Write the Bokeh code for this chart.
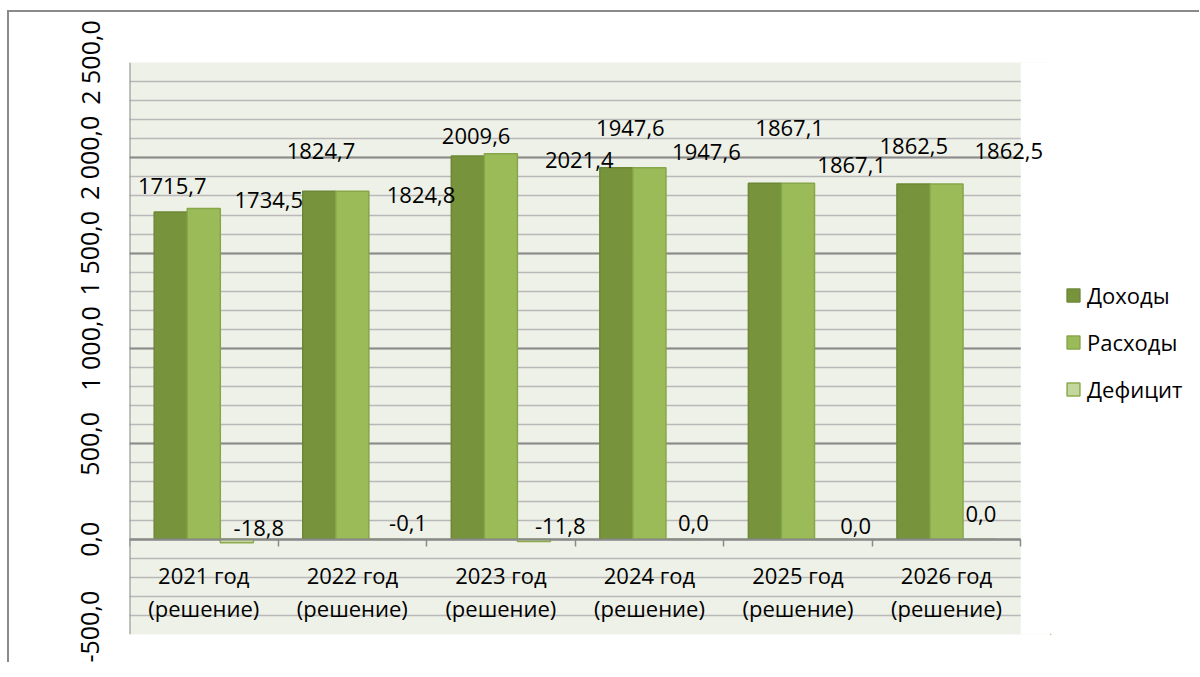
from bokeh.plotting import figure
from bokeh.layouts import row
from bokeh.models import (Range1d, SingleIntervalTicker, FixedTicker, Span,
                          Legend, LegendItem, ColumnDataSource)
from bokeh.core.properties import value
from bokeh.embed import file_html
from bokeh.resources import INLINE

# ---------------- data ----------------
years = ["2021 год", "2022 год", "2023 год", "2024 год", "2025 год", "2026 год"]
note = "(решение)"
series_names = ["Доходы", "Расходы", "Дефицит"]
dohody = [1715.7, 1824.7, 2009.6, 1947.6, 1867.1, 1862.5]
rashody = [1734.5, 1824.8, 2021.4, 1947.6, 1867.1, 1862.5]
deficit = [-18.8, -0.1, -11.8, 0.0, 0.0, 0.0]
y_ticks = [-500, 0, 500, 1000, 1500, 2000, 2500]
y_tick_labels = ["-500,0", "0,0", "500,0", "1 000,0", "1 500,0", "2 000,0", "2 500,0"]

# ---------------- style ----------------
FONT = value("Open Sans")
fill_colors = ["#77933C", "#9BBB59", "#C3D69B"]
line_colors = ["#6C8836", "#86A64A", "#8DAA4E"]
bar_w = 0.2225
dodge = [-0.2225, 0.0, 0.2225]
EXT = 0.2  # extra room right of the plot area so the last label is not clipped
# data-label pixel offsets (Excel placed labels), per series
label_dx = [[1.5, 1.7, 8.3, 14, 24.7, 0.3],
            [65, 68.7, 78.3, 57, 53.7, 62.3],
            [22, 22.7, 26.3, 11, 24.7, 1.3]]
label_dy = [[-26, -40, -19.6, -39.4, -54.8, -37.6],
            [-8.1, 4.2, 6.7, -15.4, -17.8, -32.6],
            [-15, -16.5, -15.8, -16.5, -13.5, -25.5]]
GRID_MAJOR = "#8A8A8A"
GRID_MINOR = "#B9B9B9"
PLOT_BG = "#EEF1E7"

n = len(years)
series = [dohody, rashody, deficit]
y_lo, y_hi = y_ticks[0], y_ticks[-1]


def fmt(v):
    return f"{v:.1f}".replace(".", ",")


H = 650
p = figure(width=1041, height=H, output_backend="svg", toolbar_location=None,
           x_range=Range1d(0, n + EXT), y_range=Range1d(y_lo, y_hi),
           min_border_left=120, min_border_top=50, min_border_right=0,
           min_border_bottom=28)
p.background_fill_color = PLOT_BG
p.border_fill_color = "white"
p.outline_line_color = None

# grid
p.xgrid.visible = False
ticker = SingleIntervalTicker(interval=500, num_minor_ticks=5)
p.yaxis.ticker = ticker
p.ygrid.ticker = ticker
p.ygrid.grid_line_color = GRID_MAJOR
p.ygrid.grid_line_width = 2
p.ygrid.minor_grid_line_color = GRID_MINOR
p.ygrid.minor_grid_line_width = 1.5

# white mask right of the plot area (covers background and grid there)
p.quad(left=[n], right=[n + EXT + 0.05], bottom=[y_lo - 50], top=[y_hi + 50],
       fill_color="white", line_color=None)

# y axis
yax = p.yaxis[0]
yax.axis_line_color = None
yax.major_tick_line_color = None
yax.minor_tick_line_color = None
yax.major_label_overrides = {float(t): s for t, s in zip(y_ticks, y_tick_labels)}
yax.major_label_orientation = "vertical"
yax.major_label_text_font = "Open Sans"
yax.major_label_text_font_size = "25px"
yax.major_label_text_color = "black"
yax.major_label_standoff = 17

# x axis at zero (tick marks at category boundaries, labels drawn as text)
bounds = list(range(n + 1))
xax = p.xaxis[0]
xax.ticker = FixedTicker(ticks=bounds)
xax.fixed_location = 0
xax.bounds = (0, n)
xax.major_label_overrides = {float(b): "" for b in bounds}
xax.axis_line_color = GRID_MAJOR
xax.axis_line_width = 2
xax.major_tick_line_color = GRID_MAJOR
xax.major_tick_line_width = 1.5
xax.major_tick_in = 0
xax.major_tick_out = 7
xax.minor_tick_line_color = None

# left frame border
p.add_layout(Span(location=0, dimension="height", line_color=GRID_MAJOR, line_width=2))

# bars
for k, vals in enumerate(series):
    xs = [i + 0.5 + dodge[k] for i in range(n)]
    src = ColumnDataSource(dict(x=xs, top=vals))
    p.vbar(x="x", top="top", bottom=0, width=bar_w, source=src,
           fill_color=fill_colors[k], line_color=line_colors[k], line_width=1.5)

# data labels
for k, vals in enumerate(series):
    xs = [i + 0.5 + dodge[k] for i in range(n)]
    src = ColumnDataSource(dict(x=xs, y=vals, t=[fmt(v) for v in vals],
                                dx=label_dx[k], dy=label_dy[k]))
    p.text(x="x", y="y", text="t", x_offset="dx", y_offset="dy", source=src,
           text_font=FONT, text_font_size="22px", text_color="black",
           text_align="center", text_baseline="middle")

# category labels
cx = [i + 0.5 for i in range(n)]
zeros = [0] * n
p.text(x=cx, y=zeros, text=years, y_offset=36, text_font=FONT, text_font_size="22px",
       text_color="black", text_align="center", text_baseline="middle")
p.text(x=cx, y=zeros, text=[note] * n, y_offset=69, text_font=FONT,
       text_font_size="22px", text_color="black", text_align="center",
       text_baseline="middle")

# ---------------- legend figure ----------------
p2 = figure(width=149, height=H, output_backend="svg", toolbar_location=None,
            x_axis_location=None, y_axis_location=None,
            x_range=Range1d(0, 1), y_range=Range1d(0, 1),
            min_border_left=0, min_border_right=0, min_border_top=0, min_border_bottom=0)
p2.outline_line_color = None
p2.grid.visible = False
p2.background_fill_color = "white"
p2.border_fill_color = "white"
leg_r = []
for k in range(3):
    # legend-only renderers: their single bar lies far outside the visible range
    leg_r.append(p2.vbar(x=[-50], top=[-49], bottom=[-50], width=0.1,
                         fill_color=fill_colors[k], line_color=line_colors[k],
                         line_width=1.5))
legend = Legend(items=[LegendItem(label=series_names[k], renderers=[leg_r[k]])
                       for k in range(3)],
                location=(15, 230), orientation="vertical",
                label_text_font="Open Sans", label_text_font_size="22px",
                label_text_color="black", glyph_width=16, glyph_height=16,
                label_standoff=6, label_height=20, spacing=17, padding=0, margin=0,
                border_line_color=None, background_fill_alpha=0)
p2.add_layout(legend, "center")

layout = row(p, p2, styles={"border-top": "2px solid #8A8A8A",
                            "border-left": "2px solid #8A8A8A",
                            "margin-top": "10px", "margin-left": "7px"})

open("out.html", "w").write(file_html(layout, INLINE))
